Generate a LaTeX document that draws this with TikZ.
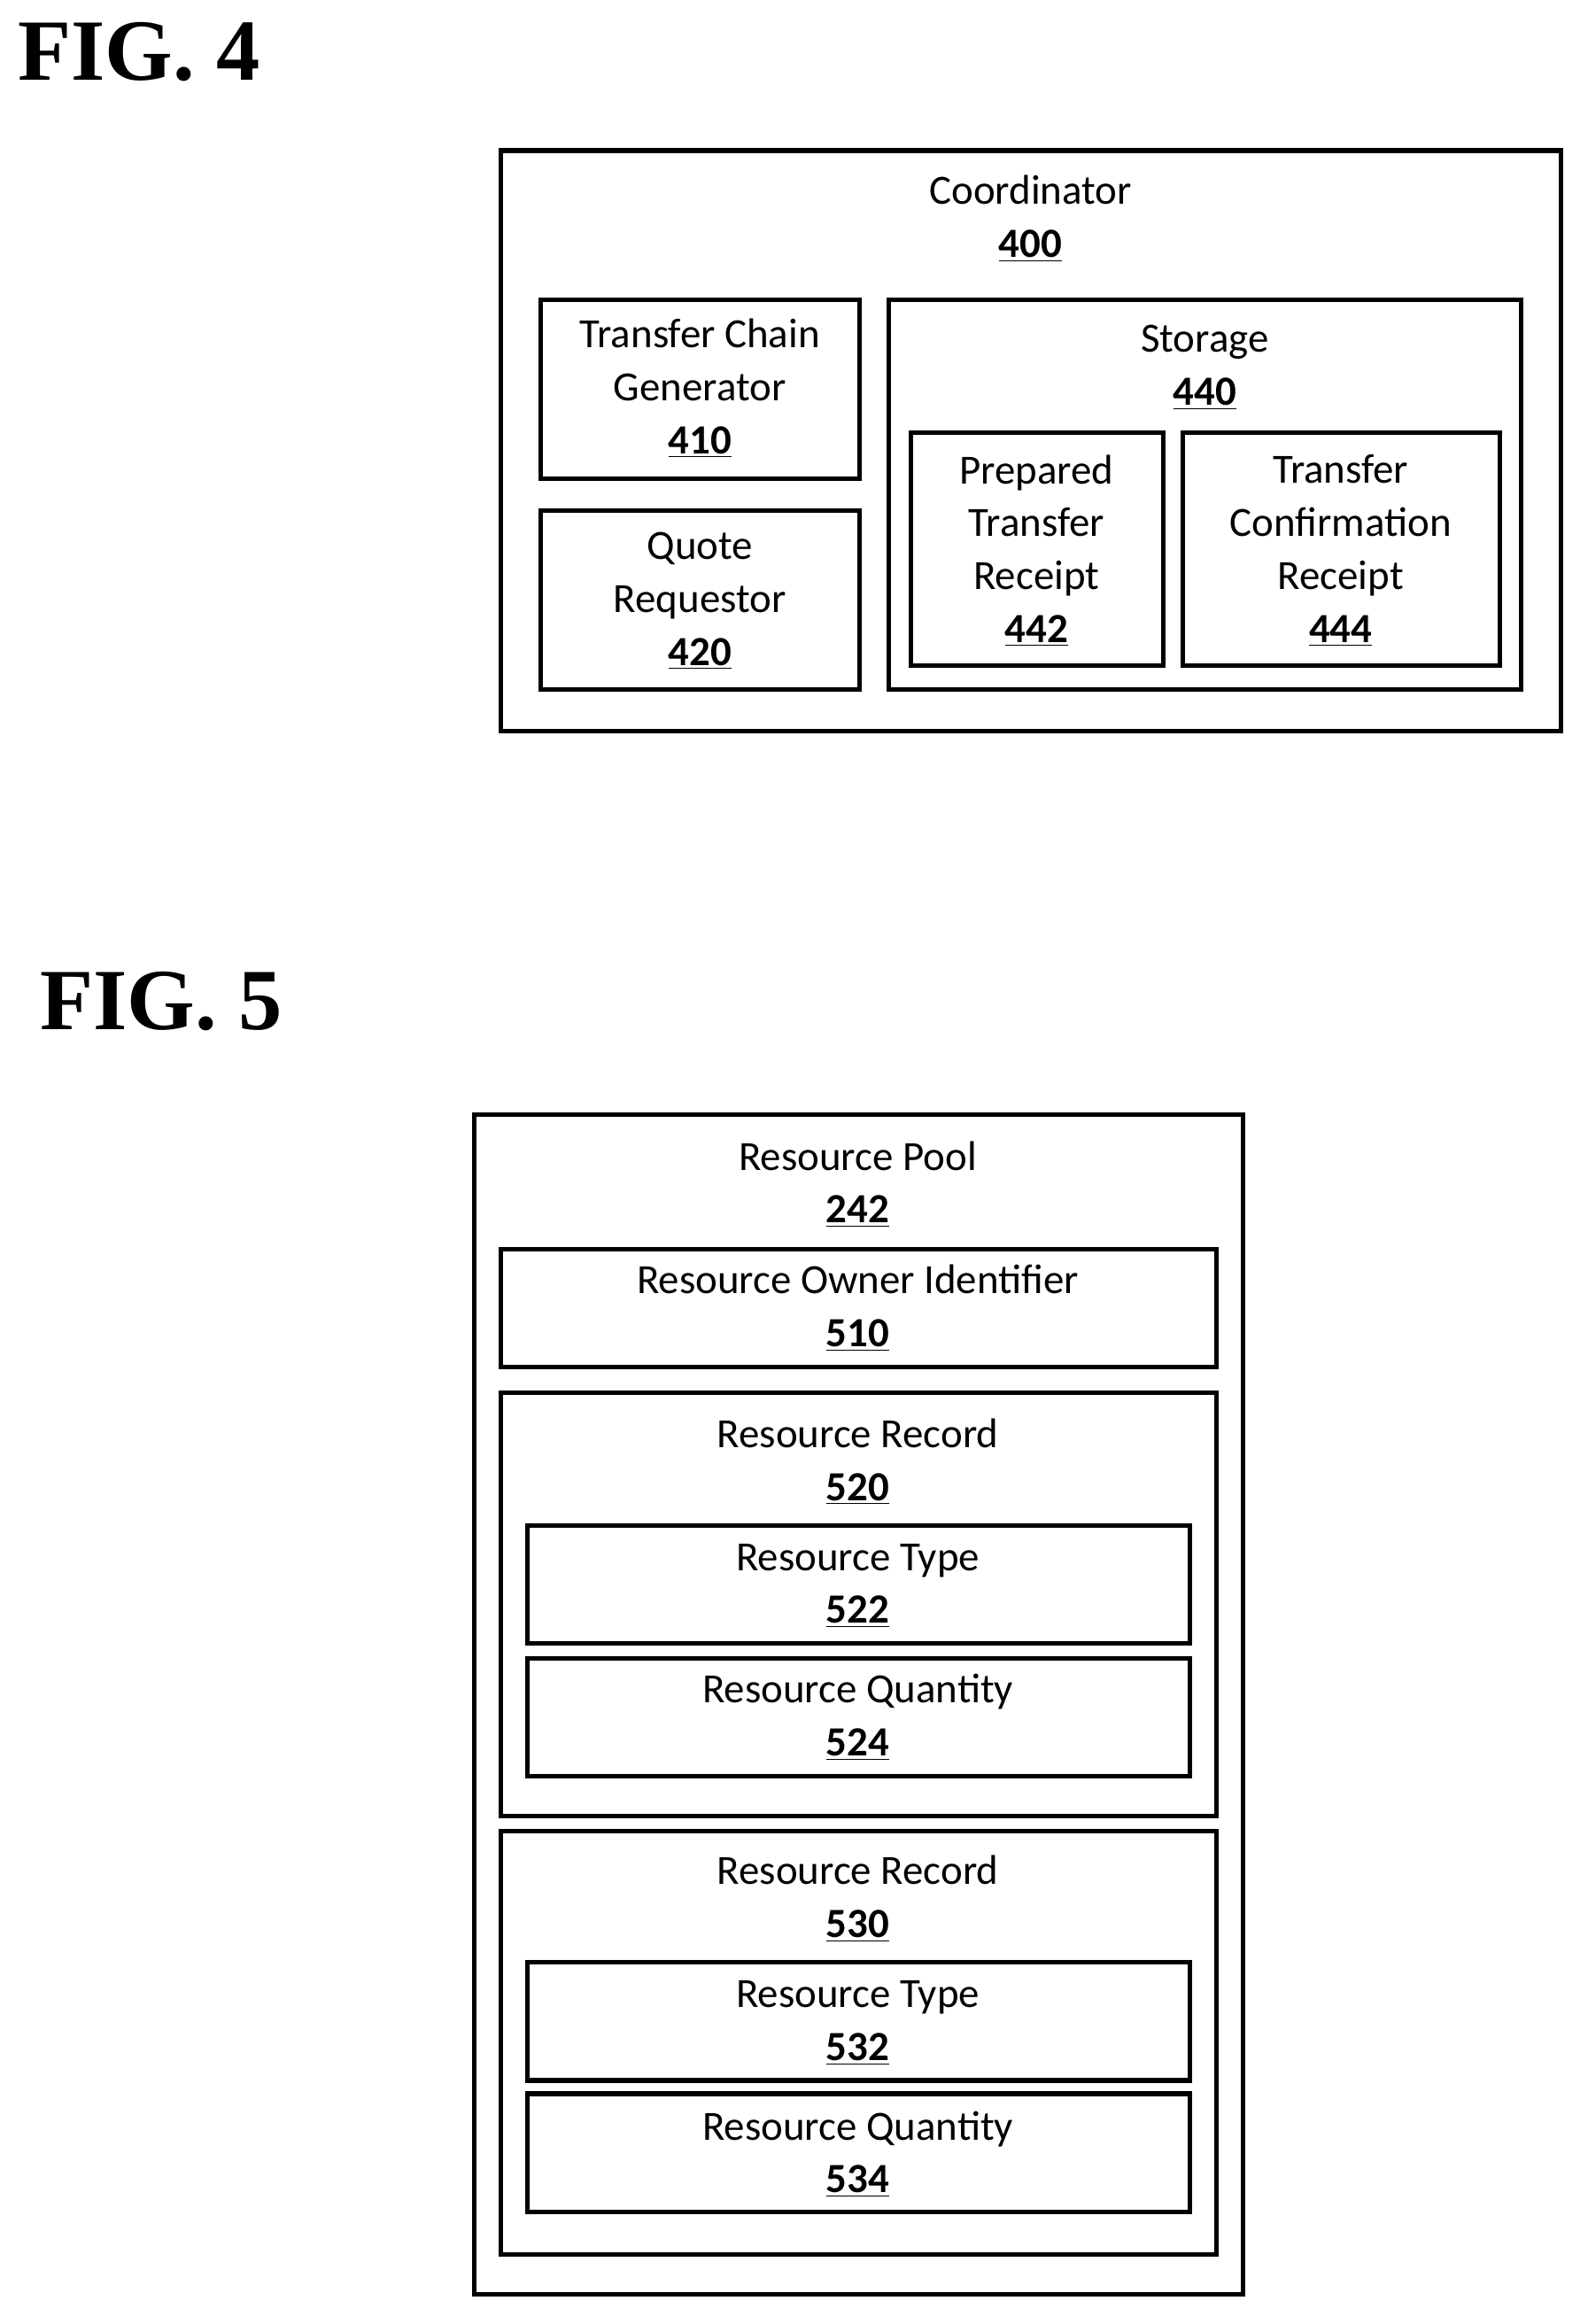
\documentclass[tikz,border=0pt]{standalone}
\usepackage{fontspec}
\setmainfont{Carlito}
\newfontfamily\figfont{Liberation Serif}
\usetikzlibrary{positioning}
\tikzset{
  box/.style={draw=black, line width=2.2pt, minimum width=#1, inner sep=0pt},
  lbl/.style={align=center, font=\fontsize{20}{25.5}\selectfont, inner sep=0pt},
  figlbl/.style={font=\figfont\bfseries\fontsize{42}{42}\selectfont, anchor=west, inner sep=0pt}
}
\newcommand{\num}[1]{\underline{\textbf{#1}}}
\newcommand{\boxat}[5]{\draw[line width=2.2pt] (#2,#3) rectangle (#4,#5) coordinate (#1);}
\begin{document}
\begin{tikzpicture}[x=0.025cm, y=-0.025cm]
\useasboundingbox (0,0) rectangle (1075,1574);

\node[figlbl] (fig4) at (12,35) {FIG. 4};
\node[figlbl] (fig5) at (27,678) {FIG. 5};

% Coordinator
\boxat{c400}{339}{102}{1057}{495}
\node[lbl] (t400) at (698,148) {Coordinator\\\num{400}};
\boxat{c410}{366}{203}{582}{324}
\node[lbl] (t410) at (474,263) {Transfer Chain\\Generator\\\num{410}};
\boxat{c420}{366}{346}{582}{467}
\node[lbl] (t420) at (474,407) {Quote\\Requestor\\\num{420}};
\boxat{c440}{602}{203}{1030}{467}
\node[lbl] (t440) at (816,249) {Storage\\\num{440}};
\boxat{c442}{617}{293}{788}{451}
\node[lbl] (t442) at (702,373) {Prepared\\Transfer\\Receipt\\\num{442}};
\boxat{c444}{801}{293}{1016}{451}
\node[lbl] (t444) at (908,373) {Transfer\\Confirmation\\Receipt\\\num{444}};

% Resource pool
\boxat{c242}{321}{755}{842}{1554}
\node[lbl] (t242) at (581,802) {Resource Pool\\\num{242}};
\boxat{c510}{339}{846}{824}{926}
\node[lbl] (t510) at (581,886) {Resource Owner Identifier\\\num{510}};
\boxat{c520}{339}{943}{824}{1230}
\node[lbl] (t520) at (581,990) {Resource Record\\\num{520}};
\boxat{c522}{357}{1033}{806}{1113}
\node[lbl] (t522) at (581,1074) {Resource Type\\\num{522}};
\boxat{c524}{357}{1123}{806}{1203}
\node[lbl] (t524) at (581,1163) {Resource Quantity\\\num{524}};
\boxat{c530}{339}{1240}{824}{1527}
\node[lbl] (t530) at (581,1286) {Resource Record\\\num{530}};
\boxat{c532}{357}{1329}{806}{1409}
\node[lbl] (t532) at (581,1370) {Resource Type\\\num{532}};
\boxat{c534}{357}{1418}{806}{1498}
\node[lbl] (t534) at (581,1459) {Resource Quantity\\\num{534}};
\end{tikzpicture}
\end{document}
